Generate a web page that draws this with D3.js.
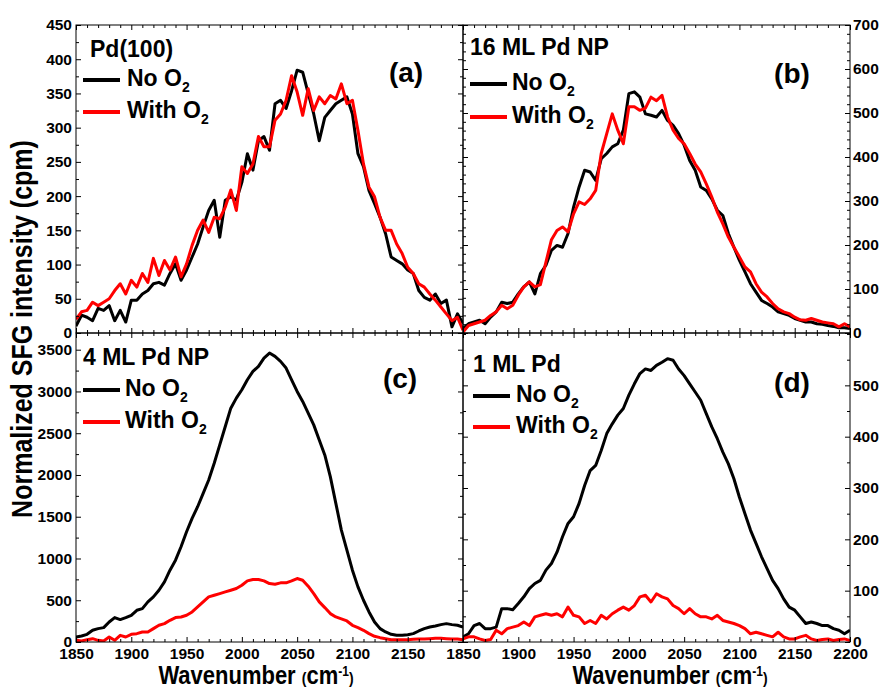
<!DOCTYPE html>
<html>
<head>
<meta charset="utf-8" />
<style>
    body { margin: 0; background: #fff; }
    text { font-family: "Liberation Sans", Arial, sans-serif; font-weight: bold; fill: #000; }
    .axis path { display: none; }
    .axis line { stroke: #000; stroke-width: 1; }
    .axis text { font-size: 15.5px; }
</style>
</head>
<body>
<svg width="884" height="688"></svg>
<script src="https://d3js.org/d3.v7.min.js"></script>
<script>

// wavenumber grid the curves were read on (cm-1)
var wavenumber = d3.range(1850, 2201, 5);

// (a) Pd(100)
var pd100NoO2 = [10,26,23,18,36,33,40,18,33,16, 48,48,57,62,72,74,70,87,101,77,
    92,111,130,155,179,194,140,194,199,194, 220,262,238,281,287,267,335,340,328,354,
    384,381,350,320,281,315,325,335,340,345, 320,262,243,208,189,169,145,111,106,101,
    92,87,62,52,48,57,43,48,9,28,14];
var pd100WithO2 = [20,31,33,45,40,45,50,62,72,57, 77,67,87,74,109,84,106,92,111,82,
    101,128,150,165,147,169,167,184,209,179, 243,233,247,287,272,272,311,320,340,376,
    352,318,357,325,345,335,347,342,364,335, 340,296,247,213,199,169,150,150,130,116,
    96,87,72,67,57,48,38,28,18,23,4];

// (b) 16 ML Pd NP
var np16NoO2 = [10,21,25,29,21,36,48,70,67,70, 89,105,116,89,135,154,188,199,195,226,
    286,332,370,366,347,396,408,423,430,461, 544,548,536,498,495,491,506,483,472,453,
    427,392,370,332,324,305,279,267,226,195, 165,139,112,93,74,67,59,48,44,40,
    33,29,25,25,21,20,17,15,12,12,10];
var np16WithO2 = [2,17,21,25,29,40,48,63,55,63, 86,105,116,105,110,161,212,233,241,230,
    271,298,292,305,324,408,453,498,461,430, 514,514,506,511,536,528,540,491,461,442,
    430,408,384,366,339,309,275,248,218,195, 173,150,139,112,93,82,67,55,48,44,
    36,30,29,33,29,25,23,21,14,21,14];

// (c) 4 ML Pd NP
var np4NoO2 = [60,72,92,140,160,172,240,292,268,292, 320,380,400,480,540,620,720,860,980,1140,
    1320,1480,1620,1780,1940,2140,2360,2580,2800,2920, 3020,3140,3240,3300,3400,3460,3420,3360,3280,3140,
    3000,2880,2740,2600,2420,2240,1980,1660,1340,1100, 860,660,500,360,240,160,120,92,80,80,
    88,100,132,160,180,192,208,220,208,200,180];
var np4WithO2 = [20,12,28,40,20,12,60,20,80,60, 92,100,120,120,160,200,220,260,292,300,
    320,360,420,480,540,560,580,600,620,640, 680,732,748,748,732,700,692,708,708,732,
    760,740,668,580,480,412,340,300,276,252, 200,172,140,100,68,52,40,28,28,28,
    28,32,36,36,40,44,44,40,36,36,28];

// (d) 1 ML Pd
var ml1NoO2 = [10,16,32,36,26,26,29,65,65,63, 75,88,104,114,120,140,153,175,205,231,
    244,270,305,334,344,373,406,425,442,455, 481,503,523,532,529,539,545,552,549,532,
    519,503,487,471,445,419,396,370,347,318, 282,250,218,192,166,143,120,104,84,68,
    62,49,36,39,36,32,32,26,23,16,23];
var ml1WithO2 = [6,10,10,6,3,5,23,16,26,29, 32,39,32,49,52,55,52,55,49,68,
    52,49,36,42,36,52,45,55,62,68, 62,71,88,91,78,94,88,84,71,65,
    55,65,55,49,49,45,52,42,39,36, 32,26,16,19,16,13,10,19,10,6,
    6,10,13,6,3,5,6,3,5,6,3];

var xTicks = [1850, 1900, 1950, 2000, 2050, 2100, 2150, 2200];
var yTicksA = [0, 50, 100, 150, 200, 250, 300, 350, 400, 450];
var yTicksB = [0, 100, 200, 300, 400, 500, 600, 700];
var yTicksC = [0, 500, 1000, 1500, 2000, 2500, 3000, 3500];
var yTicksD = [0, 100, 200, 300, 400, 500];
var panelTitles = ["Pd(100)", "16 ML Pd NP", "4 ML Pd NP", "1 ML Pd"];
var panelLetters = ["(a)", "(b)", "(c)", "(d)"];

var svg = d3.select("svg");

var cols = [[76, 463], [463, 850]];
var rows = [[25, 333], [333, 642]];

var panels = [
    {noO2: pd100NoO2, withO2: pd100WithO2, yMax: 450, yTicks: yTicksA, yMinor: 25, col: 0, row: 0,
        tx: 14, ty: 32, lx: 7, tlx: 51, ly1: 55, ly2: 87, ax: 330, ay: 57},
    {noO2: np16NoO2, withO2: np16WithO2, yMax: 700, yTicks: yTicksB, yMinor: 20, col: 1, row: 0,
        tx: 7, ty: 30, lx: 7, tlx: 49, ly1: 59, ly2: 92, ax: 329, ay: 58},
    {noO2: np4NoO2, withO2: np4WithO2, yMax: 3700, yTicks: yTicksC, yMinor: 250, col: 0, row: 1,
        tx: 7, ty: 32, lx: 7, tlx: 49, ly1: 57, ly2: 89, ax: 324, ay: 55},
    {noO2: ml1NoO2, withO2: ml1WithO2, yMax: 602, yTicks: yTicksD, yMinor: 50, col: 1, row: 1,
        tx: 10, ty: 39, lx: 10, tlx: 53, ly1: 63, ly2: 94, ax: 329, ay: 59}
];

var fmt = d3.format("d");

panels.forEach(function (p, i) {
    var x0 = cols[p.col][0], x1 = cols[p.col][1];
    var y0 = rows[p.row][0], y1 = rows[p.row][1];

    var x = d3.scaleLinear().domain([1850, 2200]).range([x0, x1]);
    var y = d3.scaleLinear().domain([0, p.yMax]).range([y1, y0]);

    var xMinor = d3.range(1850, 2201, 10).filter(function (d) { return (d - 1850) % 50 !== 0; });
    var yMinor = d3.range(0, p.yMax + 1, p.yMinor).filter(function (d) { return p.yTicks.indexOf(d) < 0; });

    svg.append("clipPath").attr("id", "clip" + i)
        .append("rect").attr("x", x0).attr("y", y0).attr("width", x1 - x0).attr("height", y1 - y0);

    var line = d3.line()
        .x(function (d, j) { return x(wavenumber[j]); })
        .y(function (d) { return y(d); });

    var plot = svg.append("g").attr("clip-path", "url(#clip" + i + ")");
    plot.append("path").datum(p.noO2).attr("d", line)
        .attr("fill", "none").attr("stroke", "#000").attr("stroke-width", 3).attr("stroke-linejoin", "round");
    plot.append("path").datum(p.withO2).attr("d", line)
        .attr("fill", "none").attr("stroke", "#ff0000").attr("stroke-width", 3).attr("stroke-linejoin", "round");

    // x axes (bottom with labels only in the lower row)
    var fmtX = function (d) {
        if (p.row === 0) return "";
        if (p.col === 0 && d === 2200) return "";
        return fmt(d);
    };
    svg.append("g").attr("class", "axis").attr("transform", "translate(0," + y1 + ")")
        .call(d3.axisBottom(x).tickValues(xTicks).tickSizeInner(-5).tickSizeOuter(0).tickPadding(6).tickFormat(fmtX));
    svg.append("g").attr("class", "axis").attr("transform", "translate(0," + y1 + ")")
        .call(d3.axisBottom(x).tickValues(xMinor).tickSizeInner(-3).tickSizeOuter(0).tickFormat(""));
    svg.append("g").attr("class", "axis").attr("transform", "translate(0," + y0 + ")")
        .call(d3.axisTop(x).tickValues(xTicks).tickSizeInner(-5).tickSizeOuter(0).tickFormat(""));
    svg.append("g").attr("class", "axis").attr("transform", "translate(0," + y0 + ")")
        .call(d3.axisTop(x).tickValues(xMinor).tickSizeInner(-3).tickSizeOuter(0).tickFormat(""));

    // y axes, labels on the outer side
    var labelled = p.col === 0 ? d3.axisLeft(y).tickPadding(4) : d3.axisRight(y).tickPadding(3);
    var other = p.col === 0 ? d3.axisRight(y) : d3.axisLeft(y);
    var xl = p.col === 0 ? x0 : x1, xo = p.col === 0 ? x1 : x0;
    svg.append("g").attr("class", "axis").attr("transform", "translate(" + xl + ",0)")
        .call(labelled.tickValues(p.yTicks).tickSizeInner(-5).tickSizeOuter(0).tickFormat(fmt));
    svg.append("g").attr("class", "axis").attr("transform", "translate(" + xl + ",0)")
        .call((p.col === 0 ? d3.axisLeft(y) : d3.axisRight(y)).tickValues(yMinor).tickSizeInner(-3).tickSizeOuter(0).tickFormat(""));
    svg.append("g").attr("class", "axis").attr("transform", "translate(" + xo + ",0)")
        .call(other.tickValues(p.yTicks).tickSizeInner(-5).tickSizeOuter(0).tickFormat(""));
    svg.append("g").attr("class", "axis").attr("transform", "translate(" + xo + ",0)")
        .call((p.col === 0 ? d3.axisRight(y) : d3.axisLeft(y)).tickValues(yMinor).tickSizeInner(-3).tickSizeOuter(0).tickFormat(""));

    svg.append("rect").attr("x", x0).attr("y", y0).attr("width", x1 - x0).attr("height", y1 - y0)
        .attr("fill", "none").attr("stroke", "#000").attr("stroke-width", 1);

    // legend
    svg.append("text").attr("x", x0 + p.tx).attr("y", y0 + p.ty)
        .style("font-size", "23px").text(panelTitles[i]);

    [["No O", "#000", p.ly1], ["With O", "#ff0000", p.ly2]].forEach(function (e) {
        svg.append("line")
            .attr("x1", x0 + p.lx).attr("x2", x0 + p.lx + 37)
            .attr("y1", y0 + e[2]).attr("y2", y0 + e[2])
            .attr("stroke", e[1]).attr("stroke-width", 4);
        var t = svg.append("text").attr("x", x0 + p.tlx).attr("y", y0 + e[2] + 6)
            .style("font-size", "23px");
        t.append("tspan").text(e[0]);
        t.append("tspan").attr("dy", 6).style("font-size", "14px").text("2");
    });

    svg.append("text").attr("x", x0 + p.ax).attr("y", y0 + p.ay)
        .attr("text-anchor", "middle").style("font-size", "28px").text(panelLetters[i]);
});

// axis titles
svg.append("text")
    .attr("transform", "translate(21,329) rotate(-90) scale(1,1.2)")
    .attr("text-anchor", "middle").attr("dy", "0.35em")
    .style("font-size", "25px")
    .text("Normalized SFG intensity (cpm)");

[256, 670].forEach(function (cx) {
    var t = svg.append("text")
        .attr("transform", "translate(" + cx + ",684) scale(1,1.2)")
        .attr("text-anchor", "middle");
    t.append("tspan").style("font-size", "22px").text("Wavenumber ");
    t.append("tspan").style("font-size", "14px").text("(");
    t.append("tspan").style("font-size", "22px").text("cm");
    t.append("tspan").style("font-size", "12px").attr("dy", -7).text("-1");
    t.append("tspan").style("font-size", "14px").attr("dy", 7).text(")");
});

</script>
</body>
</html>
